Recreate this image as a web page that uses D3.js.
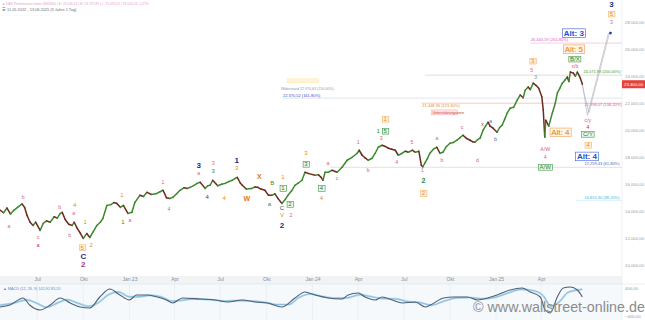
<!DOCTYPE html>
<html><head><meta charset="utf-8">
<script src="https://cdn.jsdelivr.net/npm/d3@7"></script>
<style>body{margin:0;background:#fff}svg{display:block;font-family:"Liberation Sans",Arial,sans-serif}</style>
</head><body><svg id="c" width="645" height="320"></svg>
<script>
// ---------- DATA ----------
const priceDates = ["2022-04-18","2022-04-25","2022-05-02","2022-05-09","2022-05-16","2022-05-23","2022-06-01","2022-06-06","2022-06-11","2022-06-17","2022-06-23","2022-06-28","2022-07-07","2022-07-13","2022-07-20","2022-07-27","2022-08-04","2022-08-10","2022-08-16","2022-08-20","2022-08-26","2022-09-02","2022-09-09","2022-09-13","2022-09-19","2022-09-25","2022-10-01","2022-10-08","2022-10-14","2022-10-21","2022-10-28","2022-11-04","2022-11-09","2022-11-17","2022-11-25","2022-12-01","2022-12-07","2022-12-14","2022-12-20","2022-12-29","2023-01-06","2023-01-12","2023-01-22","2023-01-29","2023-02-05","2023-02-14","2023-02-25","2023-03-03","2023-03-09","2023-03-16","2023-03-23","2023-03-29","2023-04-05","2023-04-12","2023-04-20","2023-04-27","2023-05-02","2023-05-09","2023-05-16","2023-05-22","2023-06-01","2023-06-06","2023-06-11","2023-06-16","2023-06-26","2023-07-04","2023-07-11","2023-07-18","2023-07-25","2023-07-31","2023-08-04","2023-08-10","2023-08-14","2023-08-22","2023-09-02","2023-09-08","2023-09-14","2023-09-20","2023-09-28","2023-10-05","2023-10-12","2023-10-18","2023-10-24","2023-11-01","2023-11-08","2023-11-13","2023-11-20","2023-11-27","2023-12-04","2023-12-11","2023-12-17","2023-12-23","2024-01-06","2024-01-13","2024-01-18","2024-01-22","2024-01-26","2024-02-02","2024-02-09","2024-02-19","2024-02-29","2024-03-10","2024-03-20","2024-03-30","2024-04-03","2024-04-09","2024-04-15","2024-04-21","2024-04-29","2024-05-05","2024-05-11","2024-05-19","2024-05-25","2024-05-31","2024-06-07","2024-06-14","2024-06-20","2024-06-28","2024-07-04","2024-07-10","2024-07-18","2024-07-24","2024-07-31","2024-08-05","2024-08-08","2024-08-12","2024-08-17","2024-08-22","2024-08-29","2024-09-05","2024-09-11","2024-09-17","2024-09-24","2024-10-01","2024-10-08","2024-10-15","2024-10-21","2024-10-27","2024-11-03","2024-11-10","2024-11-15","2024-11-20","2024-11-25","2024-11-30","2024-12-06","2024-12-11","2024-12-16","2024-12-20","2024-12-26","2025-01-03","2025-01-08","2025-01-13","2025-01-18","2025-01-23","2025-01-29","2025-02-05","2025-02-12","2025-02-18","2025-02-24","2025-02-28","2025-03-06","2025-03-10","2025-03-16","2025-03-22","2025-03-27","2025-04-02","2025-04-05","2025-04-08","2025-04-10","2025-04-16","2025-04-23","2025-04-29","2025-05-03","2025-05-08","2025-05-13","2025-05-18","2025-05-23","2025-05-26","2025-05-29","2025-06-04","2025-06-08","2025-06-12","2025-06-18","2025-06-22"];
const priceValues = [14100,13900,14250,13800,14100,14300,14550,14300,13700,13200,12960,13200,12590,13110,13300,13200,13600,13500,13850,13930,13400,13050,12960,13200,12740,12400,12000,12370,12070,12500,12960,13200,13480,14440,14500,14650,14590,14300,14440,13850,13930,14670,15190,15100,15410,15250,15330,15450,15560,15000,14960,15040,15300,15560,15750,15700,15780,15900,16070,16150,15700,15900,15930,16300,15900,16000,16070,16200,16300,16440,16520,16100,15930,15650,15700,15800,15780,15650,15560,15200,15190,15300,14960,14590,14900,15190,15500,15930,16100,16300,16890,16810,16670,16700,16520,16300,16890,16900,17040,16890,17260,17780,18000,18300,18520,18150,17950,17780,17930,18300,18740,18890,18800,18670,18600,18520,18150,18300,18450,18370,18520,18370,18450,17400,17300,17560,17900,18300,18600,18740,18300,18370,18800,19040,19100,19260,19450,19630,19400,19260,19150,19110,19300,19410,20000,20300,20590,20300,20150,19850,20200,20370,20800,21260,21630,21700,22220,22600,22400,22960,23200,23000,23480,23300,23110,22500,21500,19480,20740,20300,21260,22000,22740,23100,23480,23700,23930,23600,24300,24220,24000,24300,23850,23400];

const macdDates = ["2022-04-18","2022-05-08","2022-06-03","2022-06-16","2022-07-07","2022-07-27","2022-08-16","2022-09-05","2022-09-25","2022-10-14","2022-11-03","2022-11-23","2022-12-13","2023-01-01","2023-01-15","2023-02-05","2023-02-25","2023-03-16","2023-03-28","2023-04-17","2023-05-22","2023-06-21","2023-07-16","2023-08-14","2023-09-08","2023-10-04","2023-11-01","2023-11-27","2023-12-17","2024-01-06","2024-02-01","2024-02-29","2024-03-12","2024-04-01","2024-04-15","2024-05-05","2024-05-19","2024-06-08","2024-06-28","2024-07-24","2024-08-13","2024-08-23","2024-09-18","2024-10-08","2024-11-05","2024-11-25","2024-12-15","2025-01-03","2025-01-29","2025-02-22","2025-03-10","2025-03-30","2025-04-09","2025-04-19","2025-05-03","2025-05-15","2025-05-29","2025-06-12","2025-06-22"];
const macdValues = [-171,-114,86,-114,-257,-114,86,-57,-171,-200,114,343,171,29,171,171,114,29,-57,86,57,29,-29,29,-29,-57,-171,86,257,171,86,57,171,229,114,29,114,29,-57,-29,-171,-114,86,114,114,29,86,171,314,371,257,114,-257,-343,114,371,400,314,114];

const signalDates = ["2022-04-18","2022-05-15","2022-06-10","2022-06-30","2022-07-20","2022-08-10","2022-08-30","2022-09-20","2022-10-10","2022-10-30","2022-11-20","2022-12-10","2023-01-01","2023-01-20","2023-02-10","2023-03-05","2023-03-25","2023-04-15","2023-05-10","2023-06-10","2023-07-10","2023-08-05","2023-09-01","2023-09-25","2023-10-20","2023-11-15","2023-12-05","2023-12-28","2024-01-20","2024-02-15","2024-03-10","2024-04-05","2024-04-25","2024-05-20","2024-06-15","2024-07-10","2024-08-01","2024-08-25","2024-09-20","2024-10-15","2024-11-10","2024-12-05","2025-01-01","2025-01-25","2025-02-20","2025-03-15","2025-04-05","2025-04-20","2025-05-05","2025-05-25","2025-06-22"];
const signalValues = [-120,-60,30,-60,-180,-60,40,-60,-150,-60,180,260,120,120,160,120,0,20,60,40,0,10,0,-30,-100,-100,100,200,130,80,90,180,130,70,60,-20,-40,-120,0,90,100,60,110,230,330,300,150,-150,-50,250,330];

const yTicks = [10000,12000,14000,16000,18000,20000,22000,24000,26000,28000];
const xTickDates = ["2022-07-01","2022-10-01","2023-01-01","2023-04-01","2023-07-01","2023-10-01","2024-01-01","2024-04-01","2024-07-01","2024-10-01","2025-01-01","2025-04-01"];
const xTickLabels = ["Jul","Okt","Jan 23","Apr","Jul","Okt","Jan 24","Apr","Jul","Okt","Jan 25","Apr"];
const macdTicks = [400,-400];

// wave labels: date, value, text, style
const waveLabels = [
 ["2022-05-06",12890,"a","pk"],["2022-06-03",15040,"b","pk"],["2022-07-03",12070,"c","pk"],["2022-07-03",11480,"a","mg"],
 ["2022-08-15",14300,"b","pk"],["2022-09-04",12220,"b","pk"],["2022-09-14",14440,"4","or"],["2022-09-12",13850,"a","pk"],
 ["2022-10-05",13190,"1","or"],["2022-09-29",11330,"5","orb"],["2022-10-01",10670,"C","nv"],["2022-10-01",10070,"2","mgB"],
 ["2022-10-17",11480,"2","or"],["2022-12-17",15190,"1","or"],["2022-12-19",13190,"1","gr"],["2023-01-02",13330,"a","pk"],
 ["2023-03-21",14150,"4","pk"],["2023-03-09",16150,"1","pk"],["2023-05-19",17410,"3","nv"],["2023-05-19",16820,"a","pk"],
 ["2023-06-17",17560,"3","or"],["2023-06-17",16960,"3","gr"],["2023-06-05",15040,"4","dk"],["2023-07-09",14960,"4","or"],
 ["2023-08-03",17780,"1","nv"],["2023-08-03",17190,"3","or"],["2023-09-17",16590,"X","orB"],["2023-08-23",14960,"W","orB"],
 ["2023-10-13",16070,"B","gr"],["2023-10-07",14520,"a","gr"],["2023-11-03",16520,"1","or"],["2023-11-03",15700,"1","grb"],
 ["2023-11-01",14220,"C","dk"],["2023-11-17",14520,"2","grb"],["2023-11-01",13700,"V","or"],["2023-11-19",13700,"2","pk"],
 ["2023-11-01",12960,"2","nv"],["2023-12-19",18300,"3","or"],["2023-12-19",17480,"3","grb"],["2024-01-19",15700,"4","grb"],
 ["2024-01-19",14960,"4","or"],["2024-02-01",17560,"a","pk"],["2024-02-19",16440,"c","pk"],["2024-04-01",19110,"1","pk"],
 ["2024-04-21",17040,"b","pk"],["2024-05-17",19410,"3","pk"],["2024-06-17",17630,"4","pk"],["2024-07-17",19110,"5","pk"],
 ["2024-05-25",20815,"1","orb"],["2024-05-11",19930,"1","gr"],["2024-05-25",19930,"5","grb"],["2024-08-07",17040,"1","pk"],
 ["2024-08-09",16300,"2","grB"],["2024-08-09",15330,"2","orb"],["2024-09-05",19410,"a","pk"],["2024-09-15",17780,"b","pk"],
 ["2024-10-25",20220,"c","pk"],["2024-11-25",17780,"d","pk"],["2024-12-05",20440,"x","rd"],["2024-12-21",20670,"a","bl"],
 ["2024-12-31",19330,"b","bl"],["2025-03-15",25110,"3","orb"],["2025-03-13",24440,"5","pk"],["2025-03-21",23930,"3","gy"],
 ["2025-06-05",27185,"Alt: 3","alt"],["2025-06-05",26000,"Alt: 5","alto"],["2025-06-07",25260,"B/X","grb"],["2025-06-07",24740,"x/b","pk"],
 ["2025-05-09",19850,"Alt: 4","alto"],["2025-04-09",18590,"A/W","pk"],["2025-04-09",18000,"4","pk"],["2025-04-09",17260,"A/W","grb"],
 ["2025-07-03",20740,"c/y","pk"],["2025-07-03",20220,"4","rd"],["2025-07-03",19700,"C/Y","grb"],["2025-07-03",18890,"4","orb"],
 ["2025-07-01",18070,"Alt: 4","alt"],["2025-08-19",29330,"3","nv"],["2025-08-19",28590,"5","orb"],["2025-08-19",28000,"3","pk"]
];

// horizontal target levels
const levelValues = [26444, 24074, 22370, 21998, 17259, 14815];
const levelStartDates = ["2025-03-11","2024-08-12","2023-11-03","2024-08-05","2024-02-05","2025-06-10"];
const levelTexts = ["26.444,19 (261,80%)","24.071,88 (200,00%)","22.370,52 (161,80%)","21.998,07 (138,20%)","17.259,43 (61,80%)","14.815,30 (38,20%)"];

const projDates = ["2025-06-22","2025-07-02","2025-08-13"];
const projValues = [23400, 21100, 27185];
const projDates2 = ["2025-06-20","2025-07-05","2025-08-16"];
const projValues2 = [23600, 21300, 27300];

// ---------- CHART ----------
const svg = d3.select("#c");
const P = d3.timeParse("%Y-%m-%d");
const x = d3.scaleTime().domain([P("2022-04-18"), P("2025-09-05")]).range([0, 620]);
const y = d3.scaleLinear().domain([10000, 28000]).range([265.5, 22]);
const ym = d3.scaleLinear().domain([-400, 400]).range([315, 287]);

// indicator panel background
svg.append("rect").attr("x",0).attr("y",284).attr("width",622).attr("height",36).attr("fill","#f6f9fc");
svg.append("rect").attr("x",0).attr("y",276).attr("width",622).attr("height",8).attr("fill","#f1f3f5");
svg.append("line").attr("x1",0).attr("x2",645).attr("y1",284).attr("y2",284).attr("stroke","#dde2e8").attr("stroke-width",0.6);
svg.append("line").attr("x1",622).attr("x2",622).attr("y1",0).attr("y2",320).attr("stroke","#e4e7ea").attr("stroke-width",0.6);

// x axis
const xt = xTickDates.map(P);
const xAxis = d3.axisBottom(x).tickValues(xt).tickFormat((d,i)=>xTickLabels[i]).tickSize(0).tickPadding(0);
const gx = svg.append("g").attr("transform","translate(0,278)").call(xAxis);
gx.select(".domain").remove();
gx.selectAll("text").attr("fill","#8a8f96").attr("font-size",5).attr("dy","0.5em");
svg.append("g").selectAll("line").data(xt).join("line")
  .attr("x1",d=>x(d)).attr("x2",d=>x(d)).attr("y1",284).attr("y2",320).attr("stroke","#e3e9ef").attr("stroke-width",0.6);

// y axis right
const deFmt = v => d3.format(",.2f")(v).replace(/,/g,"X").replace(".",",").replace(/X/g,".");
const yAxis = d3.axisRight(y).tickValues(yTicks).tickFormat(deFmt).tickSize(0).tickPadding(0);
const gy = svg.append("g").attr("transform","translate(625,0)").call(yAxis);
gy.select(".domain").remove();
gy.selectAll("text").attr("fill","#999").attr("font-size",4.3);
const mAxis = d3.axisRight(ym).tickValues(macdTicks).tickFormat(d=>d3.format(".2f")(d).replace(".",",")).tickSize(0).tickPadding(0);
const gm = svg.append("g").attr("transform","translate(625,1.5)").call(mAxis);
gm.select(".domain").remove();
gm.selectAll("text").attr("fill","#999").attr("font-size",4.3);

// levels
const levelColors = [["#f2b8dc","#d860b8"],["#cfcfcf","#3a9a3a"],["#d6dae6","#4050c0"],["#f4b0b0","#e06080"],["#d4d4d4","#5060c0"],["#c8ecfa","#40b0e0"]];
levelValues.forEach((v,i)=>{
  svg.append("line").attr("x1",x(P(levelStartDates[i]))).attr("x2",622).attr("y1",y(v)).attr("y2",y(v))
    .attr("stroke",levelColors[i][0]).attr("stroke-width",0.7);
});
const levelLabelDates = ["2025-03-11","2025-06-24","2023-11-03","2025-06-26","2025-06-26","2025-06-26"];
const levelLabelDy = [-2.2,-2.5,-1.5,2.8,-2.5,-1.2];
levelValues.forEach((v,i)=>{
  svg.append("text").attr("x",x(P(levelLabelDates[i]))).attr("y",y(v)+levelLabelDy[i]).text(levelTexts[i])
    .attr("font-size",4).attr("fill",levelColors[i][1]);
});
// extra notes
svg.append("rect").attr("x",x(P("2023-11-12"))).attr("y",y(23800)).attr("width",31).attr("height",4).attr("fill","#fff4d8").attr("stroke","#fde0a0").attr("stroke-width",0.4);
svg.append("text").attr("x",x(P("2023-10-30"))).attr("y",y(23000)).text("Widerstand 22.970,63 (150,00%)").attr("font-size",3.6).attr("fill","#8a9ab8");
svg.append("text").attr("x",x(P("2024-08-07"))).attr("y",y(21750)).text("21.448,36 (123,60%)").attr("font-size",4).attr("fill","#e8892a");
const nb = svg.append("g");
nb.append("rect").attr("x",x(P("2024-08-25"))).attr("y",y(21500)).attr("width",26).attr("height",5).attr("fill","#fde4e4").attr("stroke","#f0a0a0").attr("stroke-width",0.4);
nb.append("text").attr("x",x(P("2024-08-26"))+0.5).attr("y",y(21500)+3.7).text("Unterstützungszone").attr("font-size",3.6).attr("fill","#d04040");

// projections
const proj = d3.line().x(d=>x(d[0])).y(d=>y(d[1]));
svg.append("path").attr("d",proj(projDates.map((d,i)=>[P(d),projValues[i]]))).attr("fill","none").attr("stroke","#a8aeb6").attr("stroke-width",0.6);
svg.append("path").attr("d",proj(projDates2.map((d,i)=>[P(d),projValues2[i]]))).attr("fill","none").attr("stroke","#a8aeb6").attr("stroke-width",0.6);
svg.append("circle").attr("cx",x(P("2025-08-17"))).attr("cy",y(27185)).attr("r",1.4).attr("fill","#2a3aa0");

// price line segments
const pts = priceDates.map((d,i)=>({d:P(d),v:priceValues[i]}));
const seg = svg.append("g");
for(let i=1;i<pts.length;i++){
  const up = pts[i].v >= pts[i-1].v;
  seg.append("line").attr("x1",x(pts[i-1].d)).attr("y1",y(pts[i-1].v)).attr("x2",x(pts[i].d)).attr("y2",y(pts[i].v))
    .attr("stroke", up ? "#3b8a2c" : "#6e2a1e").attr("stroke-width",1.5).attr("stroke-linecap","round");
}

// wave labels
const st = {
  pk:{c:"#d9608a",s:5.2}, mg:{c:"#c8306a",s:5.5}, mgB:{c:"#b0308a",s:8,w:"bold"},
  or:{c:"#e8892a",s:6}, orB:{c:"#e07a1a",s:7,w:"bold"}, orb:{c:"#e8892a",s:6,box:["#fff0da","#f4b468"]},
  gr:{c:"#2f8f2f",s:6}, grB:{c:"#2a8a2a",s:7,w:"bold"}, grb:{c:"#2a7a2a",s:6,box:["#eef8ee","#3a9a3a"]},
  nv:{c:"#1c2c8c",s:8,w:"bold"}, dk:{c:"#444",s:6}, rd:{c:"#d02020",s:5}, bl:{c:"#5070c0",s:5.5}, gy:{c:"#888",s:5},
  alt:{c:"#2a4ad0",s:8,w:"bold",box:["#ffffff","#3a5ad8"]}, alto:{c:"#e07a20",s:8,box:["#fff3e3","#f0a050"]}
};
const lg = svg.append("g");
waveLabels.forEach(([d,v,t,s])=>{
  const o = st[s];
  const g = lg.append("g");
  const tx = g.append("text").attr("x",x(P(d))).attr("y",y(v)).text(t)
    .attr("text-anchor","middle").attr("dominant-baseline","central")
    .attr("font-size",o.s).attr("font-weight",o.w||"normal").attr("fill",o.c);
  if(o.box){
    const b = tx.node().getBBox();
    g.insert("rect","text").attr("x",b.x-1.2).attr("y",b.y+0.3).attr("width",b.width+2.4).attr("height",b.height-0.4)
      .attr("fill",o.box[0]).attr("stroke",o.box[1]).attr("stroke-width",0.6);
  }
});

// current price label
const last = pts[pts.length-1];
svg.append("rect").attr("x",622).attr("y",y(last.v)-4).attr("width",23).attr("height",8).attr("fill","#e5403a");
svg.append("text").attr("x",624).attr("y",y(last.v)).attr("dominant-baseline","central").text(deFmt(last.v)).attr("font-size",4.3).attr("fill","#fff");

// indicator lines
const ml = d3.line().x(d=>x(d[0])).y(d=>ym(d[1])).curve(d3.curveMonotoneX);
svg.append("path").attr("d",ml(signalDates.map((d,i)=>[P(d),signalValues[i]]))).attr("fill","none").attr("stroke","#b9dcef").attr("stroke-width",2.2);
svg.append("path").attr("d",ml(signalDates.map((d,i)=>[P(d),signalValues[i]]))).attr("fill","none").attr("stroke","#7fb6d8").attr("stroke-width",0.8);
svg.append("path").attr("d",ml(macdDates.map((d,i)=>[P(d),macdValues[i]]))).attr("fill","none").attr("stroke","#4e5f78").attr("stroke-width",1.1);
svg.append("text").attr("x",3).attr("y",289.5).text("\u25B2 MACD (12, 26, 9)  141,92  85,55").attr("font-size",3.8).attr("fill","#5a8ac8");

// header
svg.append("text").attr("x",2).attr("y",5).text("\u25B2 DAX Performance-Index (846900) | E: 23.516,23 | H: 23.727,89 | L: 23.476,02 | 23.516,23 -1,07%").attr("font-size",3.3).attr("fill","#e3a0c4");
svg.append("text").attr("x",2).attr("y",11).text("\u2630 11.05.2022 - 13.06.2025 (3 Jahre 1 Tag)").attr("font-size",3.9).attr("fill","#6a6a6a");
svg.append("text").attr("x",2).attr("y",16).text("- - - - - - - - - - - - - - - - - - - - - - - - - -").attr("font-size",3).attr("fill","#d8dde2");

// watermark
svg.append("text").attr("x",473).attr("y",311.5).text("\u00A9 www.wallstreet-online.de")
  .attr("font-size",14.3).attr("fill","#8c8c8c");
</script></body></html>
